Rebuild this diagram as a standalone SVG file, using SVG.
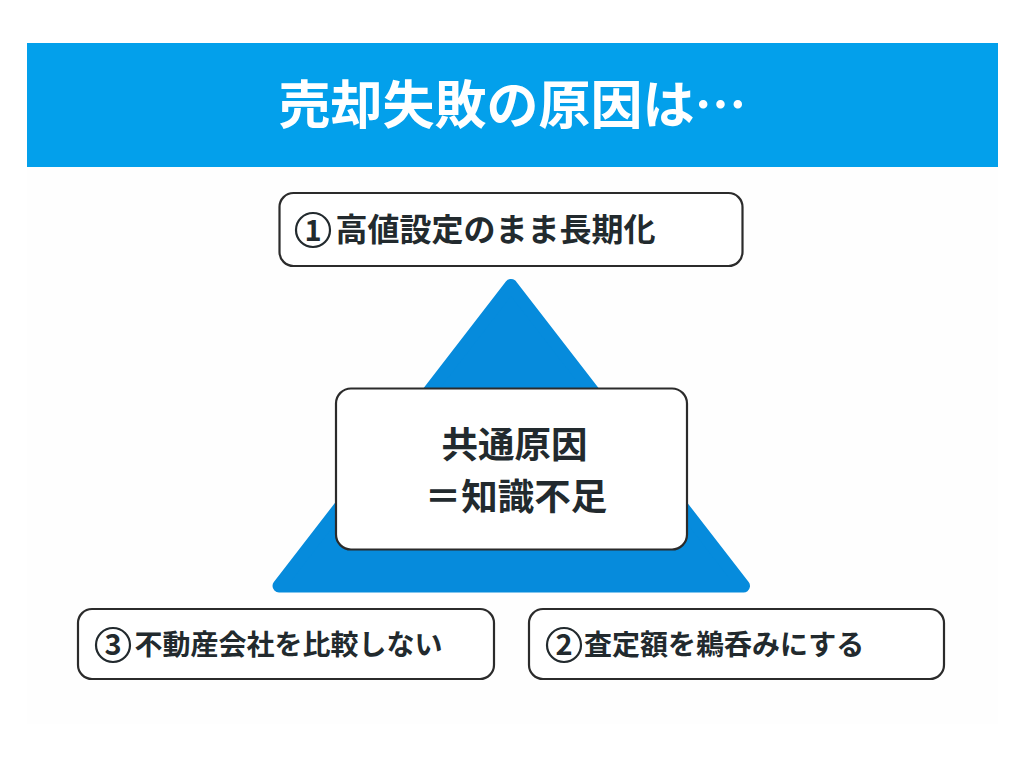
<svg xmlns="http://www.w3.org/2000/svg" width="1024" height="768" viewBox="0 0 1024 768">
<style>
text{font-family:"Noto Sans CJK JP","Noto Sans",sans-serif;font-weight:700;fill:#222a2e}
.box{fill:#fff;stroke:#2b2b2b;stroke-width:2.200}
.n{font-size:32px}
.s{font-size:28px}
.c{font-size:36.500px;text-anchor:middle}
</style>
<rect width="1024" height="768" fill="#fff"/>
<rect x="27" y="167" width="971" height="557" fill="#fefefe"/>
<g id="header">
<rect x="27" y="43" width="971" height="124" fill="#03a0eb"/>
<text x="512.500" y="124" font-size="52" text-anchor="middle" style="fill:#fff">売却失敗の原因は…</text>
</g>
<g id="triangle">
<path d="M511 285.500 L743.500 586 H279 Z" fill="#068bdc" stroke="#068bdc" stroke-width="13" stroke-linejoin="round"/>
</g>
<g id="node-center">
<rect class="box" x="336" y="388.500" width="351" height="161" rx="15"/>
<text class="c" x="514.500" y="458">共通原因</text>
<text class="c" x="516" y="510">＝知識不足</text>
</g>
<g id="node-1">
<rect class="box" x="279.500" y="193" width="463" height="73" rx="14"/>
<circle cx="313" cy="230" r="17" fill="none" stroke="#222a2e" stroke-width="2.200"/>
<text x="313" y="241" font-size="29" text-anchor="middle">1</text>
<text class="n" x="335.500" y="241">高値設定のまま長期化</text>
</g>
<g id="node-2">
<rect class="box" x="529" y="609" width="415" height="70" rx="14"/>
<circle cx="564" cy="645" r="17" fill="none" stroke="#222a2e" stroke-width="2.200"/>
<text x="564" y="655" font-size="29" text-anchor="middle">2</text>
<text class="s" x="584" y="655">査定額を鵜呑みにする</text>
</g>
<g id="node-3">
<rect class="box" x="78" y="609" width="416" height="70" rx="14"/>
<circle cx="113" cy="645" r="17" fill="none" stroke="#222a2e" stroke-width="2.200"/>
<text x="113" y="655" font-size="29" text-anchor="middle">3</text>
<text class="s" x="134.500" y="655">不動産会社を比較しない</text>
</g>
<g id="connectors"/>
</svg>
